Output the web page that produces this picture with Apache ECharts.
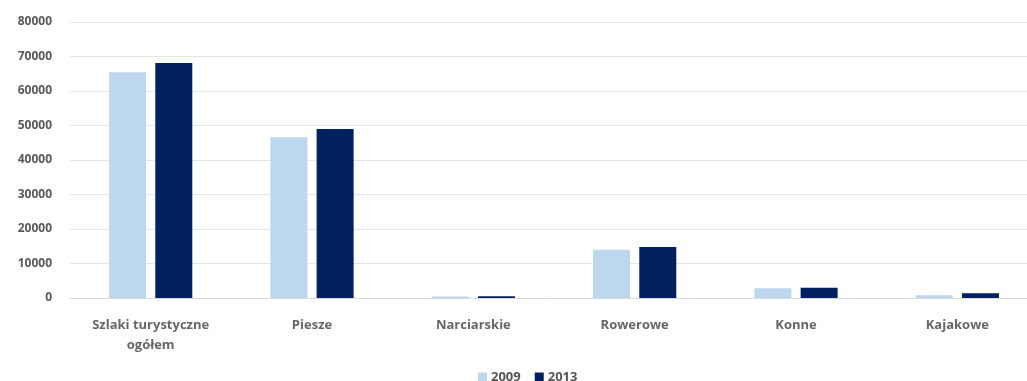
<!DOCTYPE html>
<html>
<head>
<meta charset="utf-8">
<script src="https://cdn.jsdelivr.net/npm/echarts@6/dist/echarts.min.js"></script>
<style>
  html, body { margin: 0; padding: 0; background: #fff; }
  #main { width: 1027px; height: 381px; }
</style>
</head>
<body>
<div id="main"></div>
<script>
var categories = ['Szlaki turystyczne\nogółem', 'Piesze', 'Narciarskie', 'Rowerowe', 'Konne', 'Kajakowe'];
var values2009 = [65400, 46600, 400, 14000, 2800, 800];
var values2013 = [68100, 49000, 500, 14800, 3000, 1350];
var yTicks = { min: 0, max: 80000, interval: 10000 };

var myChart = echarts.init(document.getElementById('main'));

var option = {
  animation: false,
  textStyle: { fontFamily: 'Open Sans, sans-serif' },
  grid: { left: 70, width: 968, top: 22, bottom: 83, outerBoundsMode: 'none', containLabel: false },
  legend: {
    data: ['2009', '2013'],
    top: 366,
    left: 473,
    itemWidth: 9,
    itemHeight: 10,
    itemGap: 14,
    icon: 'rect',
    textStyle: { color: '#555', fontSize: 13, fontWeight: 'bold', padding: [0, 0, 0, -1] }
  },
  xAxis: {
    type: 'category',
    data: categories,
    axisLine: { lineStyle: { color: '#d9d9d9' } },
    axisTick: { show: false },
    axisLabel: { color: '#666', fontSize: 13, fontWeight: 'bold', margin: 17, lineHeight: 20 }
  },
  yAxis: {
    type: 'value',
    min: yTicks.min,
    max: yTicks.max,
    interval: yTicks.interval,
    axisLine: { show: false },
    axisTick: { show: false },
    splitLine: { lineStyle: { color: '#e6e6e6' } },
    axisLabel: {
      color: '#595959', fontSize: 12, fontWeight: 'bold', margin: 18,
      formatter: function (v) { return String(v); }
    }
  },
  series: [{
    name: '2009',
    type: 'bar',
    data: values2009,
    barWidth: 37,
    barGap: '25%',
    itemStyle: { color: '#bdd7ee' }
  }, {
    name: '2013',
    type: 'bar',
    data: values2013,
    barWidth: 37,
    itemStyle: { color: '#002060' }
  }]
};

myChart.setOption(option);
</script>
</body>
</html>
